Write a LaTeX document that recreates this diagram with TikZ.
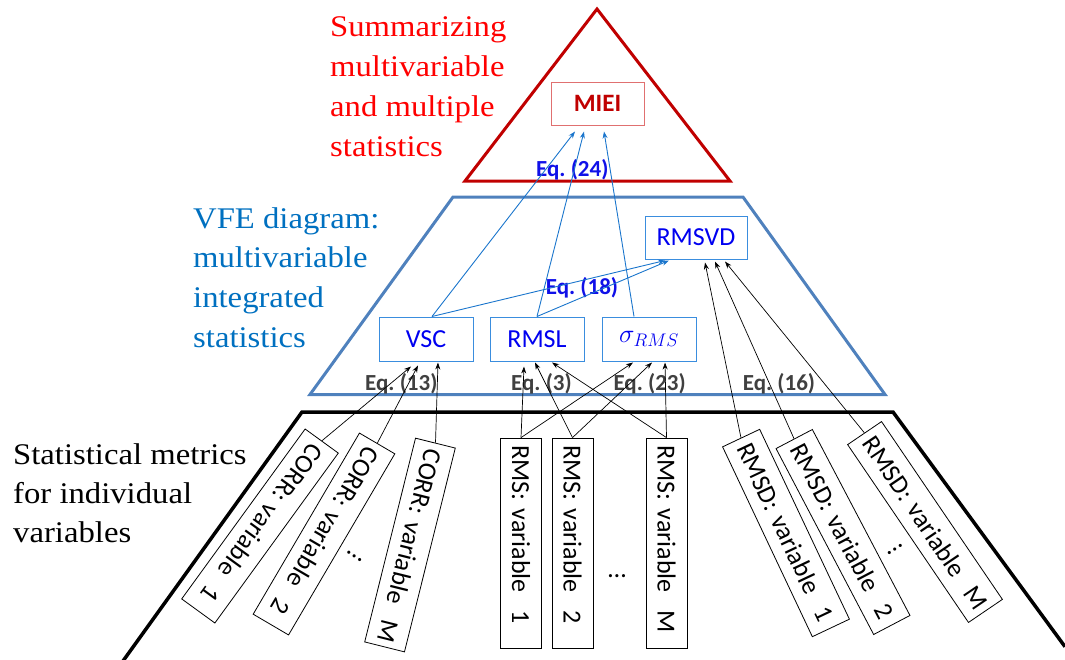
\documentclass[tikz,border=0pt]{standalone}
\usepackage{fix-cm}
\usepackage{fontspec}
\setmainfont{Liberation Serif}
\newfontfamily\titlefont[FakeStretch=1.09]{Liberation Serif}
\newfontfamily\calfont{Carlito}
\usetikzlibrary{calc,arrows.meta}
\frenchspacing
\definecolor{tri}{HTML}{C00000}
\definecolor{trap}{HTML}{4F81BD}
\definecolor{redtxt}{HTML}{FF0000}
\definecolor{bluetxt}{HTML}{0070C0}
\definecolor{nodeblue}{HTML}{0000F0}
\definecolor{boxline}{HTML}{3A8DDE}
\definecolor{arrowblue}{HTML}{1A75CC}
\definecolor{eqgray}{HTML}{404040}
\definecolor{mieiline}{HTML}{E07070}
\definecolor{eqblue}{HTML}{1010E8}
\tikzset{
  titletext/.style={anchor=base west, inner sep=0, font=\titlefont\fontsize{30}{30}\selectfont},
  midbox/.style={draw=boxline, line width=1pt, minimum width=94pt, minimum height=44pt, inner sep=0,
    font=\calfont\fontsize{26}{26}\selectfont, text=nodeblue},
  mieibox/.style={draw=mieiline, line width=1pt, minimum width=93pt, minimum height=43pt, inner sep=0,
    font=\calfont\bfseries\fontsize{25}{25}\selectfont, text=tri},
  eqb/.style={anchor=base west, inner sep=0, font=\calfont\bfseries\fontsize{23}{23}\selectfont, text=eqblue},
  eqg/.style={anchor=base west, inner sep=0, font=\calfont\bfseries\fontsize{23}{23}\selectfont, text=eqgray},
  rotbox/.style={draw=black, line width=0.8pt, text width=196pt, align=left, inner xsep=7pt, inner ysep=0pt,
    minimum height=41pt, font=\calfont\fontsize{26}{26}\selectfont},
  dotsnode/.style={inner sep=0, font=\calfont\fontsize{26}{26}\selectfont},
  bluearrow/.style={draw=arrowblue, line width=0.9pt, -{Stealth[length=7pt,width=5pt]}},
  blackarrow/.style={draw=black, line width=0.7pt, -{Stealth[length=7pt,width=5pt]}},
}
\begin{document}
\begin{tikzpicture}[x=1pt,y=-1pt]
\useasboundingbox (0,0) rectangle (1065,659);
% shapes
\draw[tri, line width=3pt, line join=miter] (597,9) -- (465,181) -- (730,181) -- cycle;
\draw[trap, line width=3pt, line join=miter] (453,197) -- (743,197) -- (885,394.5) -- (310,394.5) -- cycle;
\draw[black, line width=3.5pt, line join=miter] (123,661) -- (302,412) -- (893,412) -- (1065,646.7);
% titles
\node[titletext, text=redtxt] (t1) at (330,36.8) {Summarizing};
\node[titletext, text=redtxt] (t2) at (330,76.7) {multivariable};
\node[titletext, text=redtxt] (t3) at (330,116.6) {and multiple};
\node[titletext, text=redtxt] (t4) at (330,156.5) {statistics};
\node[titletext, text=bluetxt] (b1) at (193,228) {VFE diagram:};
\node[titletext, text=bluetxt] (b2) at (193,267.7) {multivariable};
\node[titletext, text=bluetxt] (b3) at (193,307.4) {integrated};
\node[titletext, text=bluetxt] (b4) at (193,347.1) {statistics};
\node[titletext, text=black] (k1) at (13,464) {Statistical metrics};
\node[titletext, text=black] (k2) at (13,503.3) {for individual};
\node[titletext, text=black] (k3) at (13,542.7) {variables};
% upper nodes
\node[mieibox] (MIEI) at (597.5,103.5) {MIEI};
\node[midbox] (VSC) at (426,339) {VSC};
\node[midbox] (RMSL) at (537,339) {RMSL};
\node[midbox] (sig) at (649,339) {$\sigma_{RMS}$};
\node[midbox, minimum width=102pt, minimum height=43pt] (RMSVD) at (696,237.5) {RMSVD};
% equation labels
\node[eqb] (e24) at (536,176.7) {Eq. (24)};
\node[eqb] (e18) at (545.7,294) {Eq. (18)};
\node[eqg] (e13) at (365,390.5) {Eq. (13)};
\node[eqg] (e3) at (511,390.5) {Eq. (3)};
\node[eqg] (e23) at (613.3,390.5) {Eq. (23)};
\node[eqg] (e16) at (742.7,390.5) {Eq. (16)};
% lower boxes
\node[rotbox, rotate=-126] (C1) at (260,526) {\mbox{CORR: variable\ \ 1}};
\node[rotbox, rotate=-120.4] (C2) at (324,534) {\mbox{CORR: variable\ \ 2}};
\node[rotbox, rotate=-104] (CM) at (410,545) {\mbox{CORR: variable\ \ M}};
\node[rotbox, rotate=-90] (R1) at (521,543) {\mbox{RMS: variable\ \ 1}};
\node[rotbox, rotate=-90] (R2) at (572.5,543) {\mbox{RMS: variable\ \ 2}};
\node[rotbox, rotate=-90] (RM) at (666.5,543) {\mbox{RMS: variable\ \ M}};
\node[rotbox, rotate=-64.7] (D1) at (786,533) {\mbox{RMSD: variable\ \ 1}};
\node[rotbox, rotate=-62.3] (D2) at (843,532) {\mbox{RMSD: variable\ \ 2}};
\node[rotbox, rotate=-55.8, text width=201pt] (DM) at (925,522) {\mbox{RMSD: variable\ \ M}};
\node[dotsnode, rotate=-34] (dc) at (355,556) {…};
\node[dotsnode] (dr) at (617,576) {…};
\node[dotsnode, rotate=33] (dd) at (895,549) {…};
% blue arrows
\draw[bluearrow] ($(VSC.north)+(6,0)$) -- ($(MIEI.south)+(-22.5,6)$);
\draw[bluearrow] ($(VSC.north)+(6,0)$) -- ($(RMSVD.south)+(-31,1)$);
\draw[bluearrow] (RMSL.north) -- ($(MIEI.south)+(-13.5,6)$);
\draw[bluearrow] (RMSL.north) -- ($(RMSVD.south)+(-27,1)$);
\draw[bluearrow] ($(sig.north)+(-15,0)$) -- ($(MIEI.south)+(6.5,6)$);
% black arrows
\draw[blackarrow] (C1.west) -- ($(VSC.south)+(-15,5)$);
\draw[blackarrow] (C2.west) -- ($(VSC.south)+(-8,4)$);
\draw[blackarrow] (CM.west) -- ($(VSC.south)+(12,1)$);
\draw[blackarrow] (R1.west) -- ($(RMSL.south)+(-13,5)$);
\draw[blackarrow] (R1.west) -- ($(sig.south)+(-16,1)$);
\draw[blackarrow] (R2.west) -- ($(RMSL.south)+(-2,1)$);
\draw[blackarrow] (R2.west) -- ($(sig.south)+(3,1)$);
\draw[blackarrow] (RM.west) -- ($(RMSL.south)+(15,1)$);
\draw[blackarrow] (RM.west) -- ($(sig.south)+(16,1)$);
\draw[blackarrow] (D1.west) -- ($(RMSVD.south)+(9,3)$);
\draw[blackarrow] (D2.west) -- ($(RMSVD.south)+(19,2)$);
\draw[blackarrow] (DM.west) -- ($(RMSVD.south)+(29,2)$);
\end{tikzpicture}
\end{document}
